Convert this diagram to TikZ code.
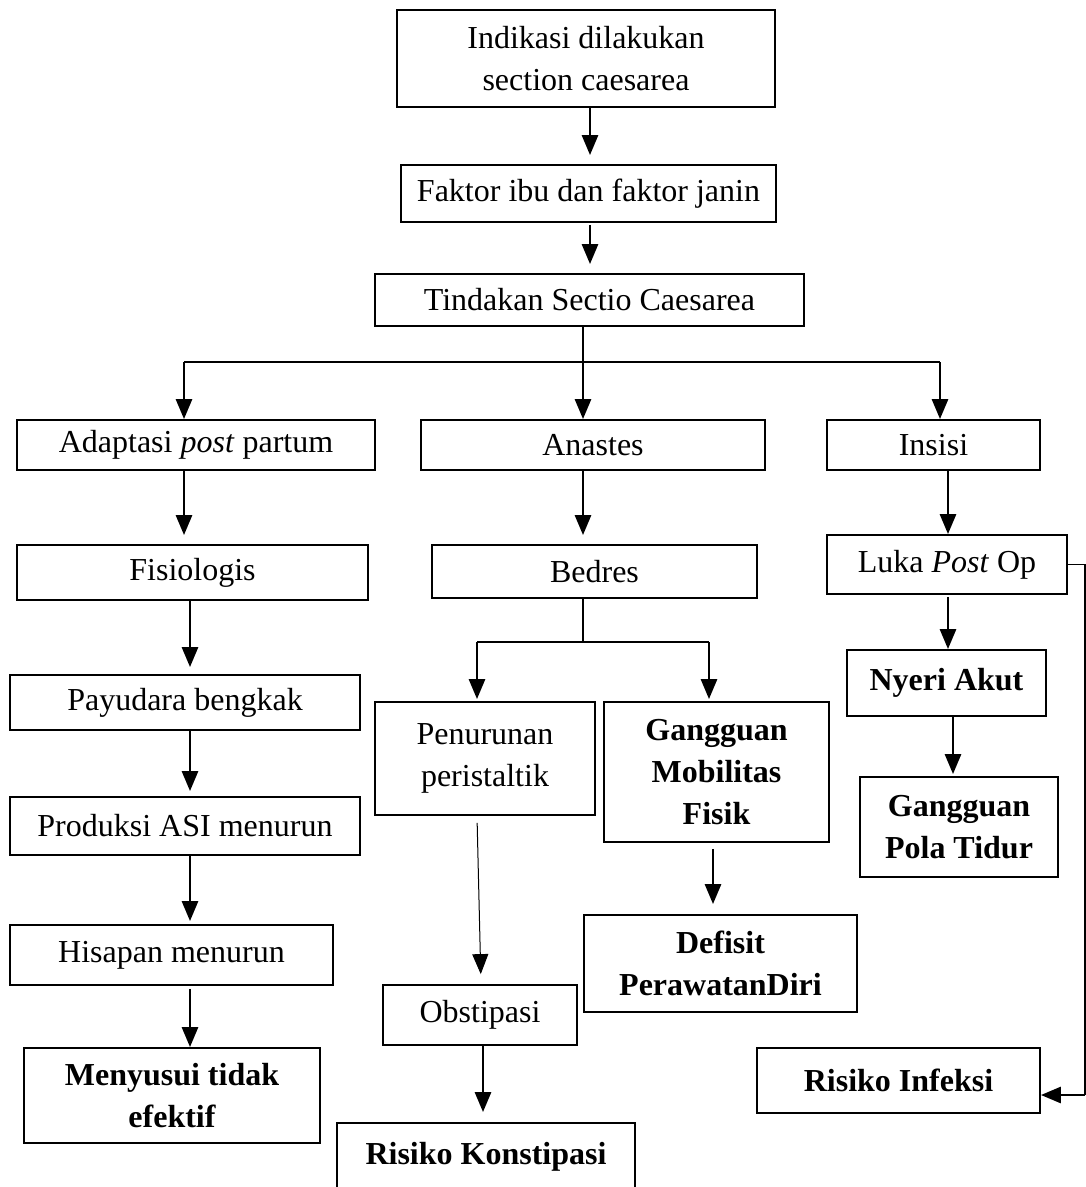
\documentclass[tikz,border=0pt]{standalone}
\usepackage{fontspec}
\setmainfont{Liberation Serif}
\usetikzlibrary{arrows.meta}
\begin{document}
\begin{tikzpicture}[x=1pt,y=-1pt,
  box/.style={draw, line width=1.8pt, inner sep=0pt, align=center, font=\fontsize{32}{42}\selectfont},
  bbox/.style={box, font=\fontsize{32}{42}\selectfont\bfseries},
  arr/.style={line width=2.8pt, -{Triangle[width=16pt,length=20pt]}},
  thinarr/.style={line width=1pt, -{Triangle[width=16pt,length=20pt]}},
  conn/.style={line width=1.6pt}]
\useasboundingbox (0,0) rectangle (1086,1187);
\clip (0,0) rectangle (1086,1187);
\fill[white] (0,0) rectangle (1086,1187);
% nodes
\node[box, minimum width=378, minimum height=97] (ind) at (586,58.5) {Indikasi dilakukan\\section caesarea};
\node[box, minimum width=375, minimum height=57] (fak) at (588.5,193.5) {Faktor ibu dan faktor janin};
\node[box, minimum width=429, minimum height=52] (tin) at (589.5,300) {Tindakan Sectio Caesarea};
\node[box, minimum width=358, minimum height=50] (ada) at (196,445) {Adaptasi \textit{post} partum};
\node[box, minimum width=344, minimum height=50] (ana) at (593,445) {Anastes};
\node[box, minimum width=213, minimum height=50] (ins) at (933.5,445) {Insisi};
\node[box, minimum width=351, minimum height=55] (fis) at (192.5,572.5) {Fisiologis};
\node[box, minimum width=325, minimum height=53] (bed) at (594.5,571.5) {Bedres};
\node[box, minimum width=240, minimum height=59] (luk) at (947,564.5) {Luka \textit{Post} Op};
\node[box, minimum width=350, minimum height=55] (pay) at (185,702.5) {Payudara bengkak};
\node[box, minimum width=220, minimum height=113] (pen) at (485,758.5) {Penurunan\\peristaltik};
\node[bbox, minimum width=225, minimum height=140] (gmf) at (716.5,772) {Gangguan\\Mobilitas\\Fisik};
\node[bbox, minimum width=199, minimum height=66] (nye) at (946.5,683) {Nyeri Akut};
\node[box, minimum width=350, minimum height=58] (pro) at (185,826) {Produksi ASI menurun};
\node[bbox, minimum width=273, minimum height=97] (def) at (720.5,963.5) {Defisit\\PerawatanDiri};
\node[bbox, minimum width=198, minimum height=100] (gpt) at (959,827) {Gangguan\\Pola Tidur};
\node[box, minimum width=323, minimum height=60] (his) at (171.5,955) {Hisapan menurun};
\node[box, minimum width=194, minimum height=60] (obs) at (480,1015) {Obstipasi};
\node[bbox, minimum width=296, minimum height=95] (men) at (172,1095.5) {Menyusui tidak\\efektif};
\node[bbox, minimum width=298, minimum height=77, text depth=16pt] (rko) at (486,1161.5) {Risiko Konstipasi};
\node[bbox, minimum width=283, minimum height=65] (rin) at (898.5,1080.5) {Risiko Infeksi};
% coordinates
\coordinate (c1) at (590,0);
\coordinate (s1) at (583,362);
\coordinate (sL) at (184,362);
\coordinate (sR) at (940,362);
\coordinate (cL) at (190,0);
\coordinate (cI) at (948,0);
\coordinate (b1) at (583,642);
\coordinate (bL) at (477,642);
\coordinate (bR) at (709,642);
\coordinate (cN) at (953,0);
\coordinate (cG) at (713,0);
\coordinate (cO) at (483,0);
\coordinate (r2) at (1085,1095);
% connectors
\draw[arr, shorten >=9pt] (ind.south -| c1) -- (fak.north -| c1);
\draw[arr, shorten <=2pt, shorten >=9pt] (fak.south -| c1) -- (tin.north -| c1);
\draw[arr] (tin.south -| s1) -- (ana.north -| s1);
\draw[conn] (sL) -- (sR);
\draw[arr] (sL) -- (ada.north -| sL);
\draw[arr] (sR) -- (ins.north -| sR);
\draw[arr, shorten >=9pt] (ada.south -| sL) -- (fis.north -| sL);
\draw[arr, shorten >=9pt] (ana.south -| s1) -- (bed.north -| s1);
\draw[arr] (ins.south -| cI) -- (luk.north -| cI);
\draw[arr, shorten >=7pt] (fis.south -| cL) -- (pay.north -| cL);
\draw[conn, line width=2pt] (bed.south -| b1) -- (b1);
\draw[conn, line width=2pt] (bL) -- (bR);
\draw[arr, shorten >=2pt] (bL) -- (pen.north -| bL);
\draw[arr, shorten >=2pt] (bR) -- (gmf.north -| bR);
\draw[arr, shorten <=2pt] (luk.south -| cI) -- (nye.north -| cI);
\draw[arr, shorten >=5pt] (pay.south -| cL) -- (pro.north -| cL);
\draw[thinarr, shorten <=7pt, shorten >=10pt] (pen.south -| bL) -- ([xshift=4pt]obs.north -| bL);
\draw[arr, shorten <=6pt, shorten >=10pt] (gmf.south -| cG) -- (def.north -| cG);
\draw[arr, shorten >=2pt] (nye.south -| cN) -- (gpt.north -| cN);
\draw[arr, shorten >=3pt] (pro.south -| cL) -- (his.north -| cL);
\draw[arr, shorten <=3pt] (his.south -| cL) -- (men.north -| cL);
\draw[arr, shorten >=10pt] (obs.south -| cO) -- (rko.north -| cO);
\draw[conn] (luk.east) -| (r2);
\draw[arr] (r2) -- (rin.east |- r2);
\end{tikzpicture}
\end{document}
